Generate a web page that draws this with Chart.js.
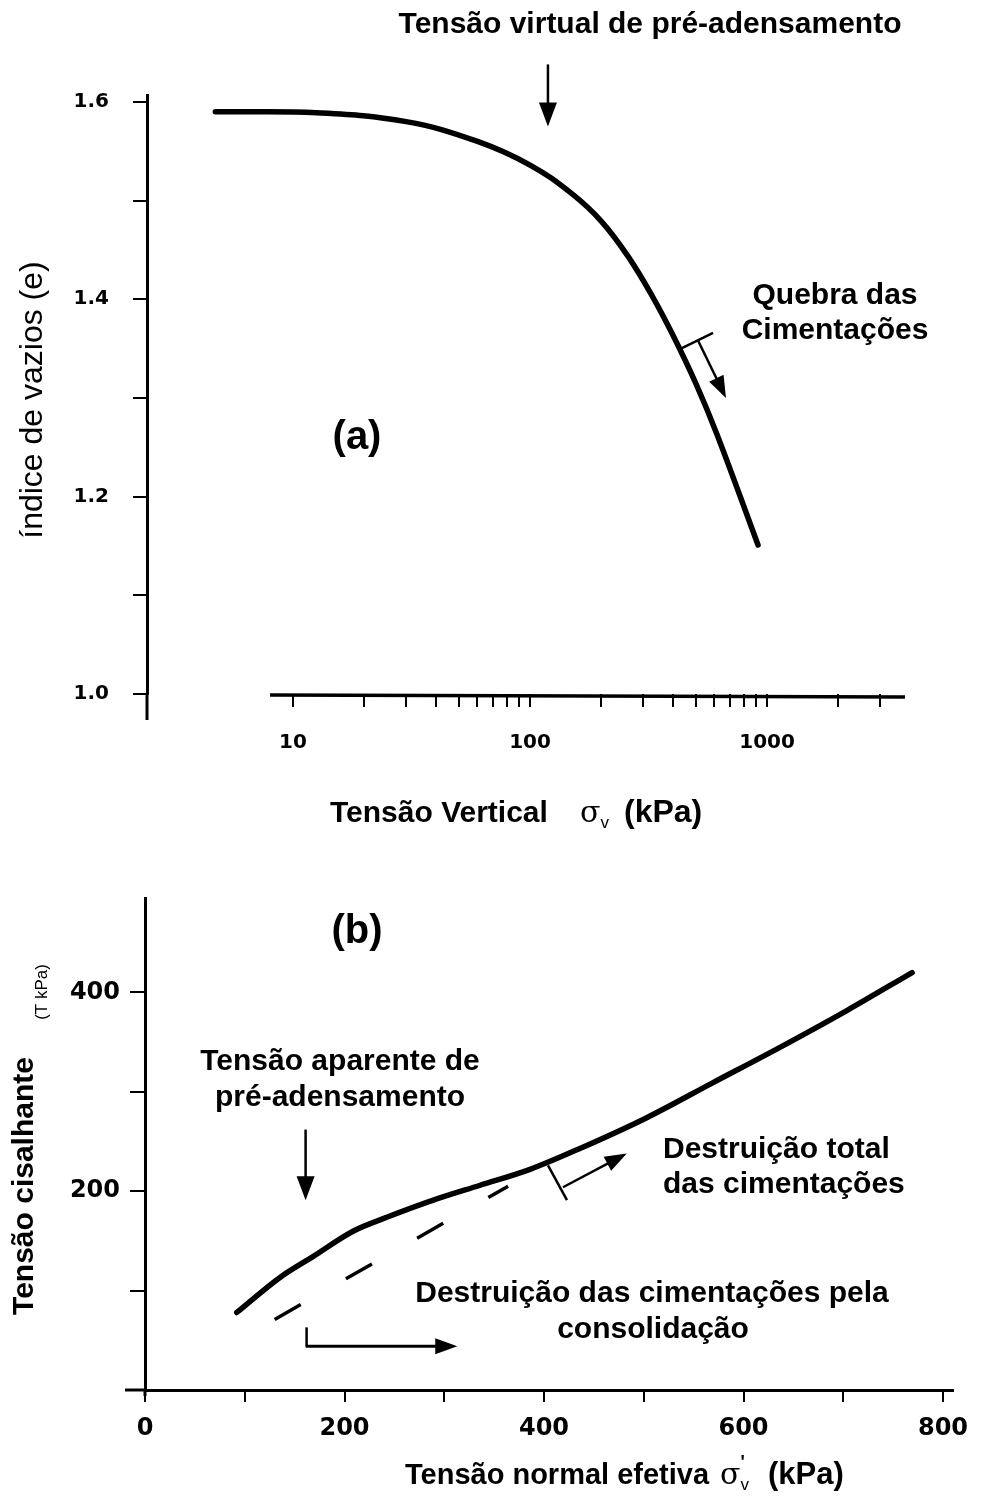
<!DOCTYPE html>
<html>
<head>
<meta charset="utf-8">
<script src="https://cdn.jsdelivr.net/npm/chart.js@4.4.0/dist/chart.umd.min.js"></script>
<style>
  body { margin: 0; background: #fff; }
  #wrapA { position: absolute; left: 0; top: 0; width: 994px; height: 860px; }
  #wrapB { position: absolute; left: 0; top: 860px; width: 994px; height: 639px; }
</style>
</head>
<body>
<div id="wrapA"><canvas id="chartA"></canvas></div>
<div id="wrapB"><canvas id="chartB"></canvas></div>
<script>
// (a) void ratio vs vertical stress (log)
const stressA = [4.7, 12.6, 30, 60, 100, 150, 200, 260, 330, 400, 500, 615, 916];
const voidRatioA = [1.590, 1.589, 1.580, 1.560, 1.536, 1.507, 1.479, 1.443, 1.402, 1.364, 1.315, 1.263, 1.151];
const xTicksA = [10, 20, 30, 40, 50, 60, 70, 80, 90, 100, 200, 300, 400, 500, 600, 700, 800, 900, 1000, 2000, 3000];
const xLabelsA = [10, 100, 1000];
const yTicksA = [1.0, 1.1, 1.2, 1.3, 1.4, 1.5, 1.6];
const yLabelsA = [1.0, 1.2, 1.4, 1.6];

// (b) shear stress vs effective normal stress
const normalB = [92, 135, 168, 209, 243, 289, 336, 386, 436, 503, 569, 637, 704, 769];
const shearB = [78, 113, 134, 160, 174, 191, 206, 222, 243, 274, 309, 345, 382, 420];
const dashNormalB = [130, 364];
const dashShearB = [71, 205];
const xTicksB = [0, 100, 200, 300, 400, 500, 600, 700, 800];
const xLabelsB = [0, 200, 400, 600, 800];
const yTicksB = [100, 200, 300, 400];
const yLabelsB = [200, 400];

Chart.defaults.font.family = '"Liberation Sans", Arial, sans-serif';
Chart.defaults.color = '#000';

const FONT = '"Liberation Sans", Arial, sans-serif';
const TICK_FONT = '"DejaVu Sans", sans-serif';

function arrow(ctx, x1, y1, x2, y2, lw, L = 22, W = 8) {
    const a = Math.atan2(y2 - y1, x2 - x1);
    ctx.lineWidth = lw;
    ctx.beginPath();
    ctx.moveTo(x1, y1);
    ctx.lineTo(x2 - (L - 4) * Math.cos(a), y2 - (L - 4) * Math.sin(a));
    ctx.stroke();
    ctx.beginPath();
    ctx.moveTo(x2, y2);
    ctx.lineTo(x2 - L * Math.cos(a) + W * Math.sin(a), y2 - L * Math.sin(a) - W * Math.cos(a));
    ctx.lineTo(x2 - L * Math.cos(a) - W * Math.sin(a), y2 - L * Math.sin(a) + W * Math.cos(a));
    ctx.closePath();
    ctx.fill();
}

function line(ctx, x1, y1, x2, y2, lw) {
    ctx.lineWidth = lw;
    ctx.beginPath();
    ctx.moveTo(x1, y1);
    ctx.lineTo(x2, y2);
    ctx.stroke();
}

function text(ctx, str, x, y, size, weight, align) {
    ctx.font = (weight || 'bold') + ' ' + size + 'px ' + FONT;
    ctx.textAlign = align || 'center';
    ctx.textBaseline = 'middle';
    ctx.fillText(str, x, y);
}

// axis title: words, then sigma (+prime) with subscript v, then (kPa)
function sigmaTitle(ctx, words, x, baseline, size, sigmaX, kpaX, prime) {
    ctx.textBaseline = 'alphabetic';
    ctx.textAlign = 'left';
    ctx.font = 'bold ' + size + 'px ' + FONT;
    ctx.fillText(words, x, baseline);
    ctx.font = '30px "DejaVu Serif", serif';
    ctx.fillText('\u03c3', sigmaX, baseline);
    const sx = sigmaX + ctx.measureText('\u03c3').width;
    if (prime) {
        ctx.font = 'bold 18px ' + FONT;
        ctx.fillText("'", sx, baseline - 16);
    }
    ctx.font = '17px ' + FONT;
    ctx.fillText('v', sx, baseline + 6);
    ctx.font = 'bold ' + (size + 2) + 'px ' + FONT;
    ctx.fillText('(kPa)', kpaX, baseline);
}

const decorA = {
    id: 'decorA',
    afterDraw(chart) {
        const { ctx, chartArea, scales: { x, y } } = chart;
        ctx.save();
        ctx.strokeStyle = '#000';
        ctx.fillStyle = '#000';
        // x axis line only starts near 8 kPa
        line(ctx, x.getPixelForValue(8), y.getPixelForValue(1.0) + 1, chartArea.right, y.getPixelForValue(1.0) + 3, 3.5);
        // y axis runs a little below the x axis
        line(ctx, chartArea.left, chartArea.bottom, chartArea.left, chartArea.bottom + 26, 3);

        text(ctx, 'Tensão virtual de pré-adensamento', 650, 25, 30);
        arrow(ctx, x.getPixelForValue(119), y.getPixelForValue(1.638), x.getPixelForValue(119), y.getPixelForValue(1.575), 2.5, 24, 9);

        text(ctx, 'Quebra das', 835, 296, 30);
        text(ctx, 'Cimentações', 835, 331, 30);
        line(ctx, x.getPixelForValue(433), y.getPixelForValue(1.350), x.getPixelForValue(592), y.getPixelForValue(1.366), 2.5);
        arrow(ctx, x.getPixelForValue(512), y.getPixelForValue(1.358), x.getPixelForValue(671), y.getPixelForValue(1.300), 2.5);

        text(ctx, '(a)', 357, 438, 40);

        ctx.save();
        ctx.translate(33, 400);
        ctx.rotate(-Math.PI / 2);
        text(ctx, 'índice de vazios (e)', 0, 0, 32, 'normal');
        ctx.restore();

        sigmaTitle(ctx, 'Tensão Vertical', 330, 822, 30, 580, 624, false);
        ctx.restore();
    }
};

const decorB = {
    id: 'decorB',
    afterDraw(chart) {
        const { ctx, chartArea, scales: { x, y } } = chart;
        ctx.save();
        ctx.strokeStyle = '#000';
        ctx.fillStyle = '#000';
        // axis stubs
        line(ctx, chartArea.left - 20, chartArea.bottom, chartArea.left, chartArea.bottom, 3);
        line(ctx, chartArea.left, chartArea.bottom, chartArea.left, chartArea.bottom + 6, 3);

        text(ctx, '(b)', 357, 72, 40);

        text(ctx, 'Tensão aparente de', 340, 202, 30);
        text(ctx, 'pré-adensamento', 340, 238, 30);
        arrow(ctx, x.getPixelForValue(161), y.getPixelForValue(262), x.getPixelForValue(161), y.getPixelForValue(191), 2.5, 24, 9);

        text(ctx, 'Destruição total', 663, 290, 30, 'bold', 'left');
        text(ctx, 'das cimentações', 663, 325, 30, 'bold', 'left');
        line(ctx, x.getPixelForValue(404), y.getPixelForValue(226), x.getPixelForValue(423), y.getPixelForValue(191), 2.5);
        arrow(ctx, x.getPixelForValue(419), y.getPixelForValue(204), x.getPixelForValue(483), y.getPixelForValue(238), 2.5);

        text(ctx, 'Destruição das cimentações pela', 652, 434, 30);
        text(ctx, 'consolidação', 653, 470, 30);
        line(ctx, x.getPixelForValue(162), y.getPixelForValue(63), x.getPixelForValue(162), y.getPixelForValue(44), 2.5);
        arrow(ctx, x.getPixelForValue(161), y.getPixelForValue(44), x.getPixelForValue(313), y.getPixelForValue(44), 3);

        ctx.save();
        ctx.translate(33, 326);
        ctx.rotate(-Math.PI / 2);
        ctx.font = 'bold 30px ' + FONT;
        ctx.textAlign = 'center';
        ctx.textBaseline = 'alphabetic';
        ctx.fillText('Tensão cisalhante', 0, 0);
        ctx.restore();
        ctx.save();
        ctx.translate(47, 132);
        ctx.rotate(-Math.PI / 2);
        ctx.font = '17px ' + FONT;
        ctx.textAlign = 'center';
        ctx.textBaseline = 'alphabetic';
        ctx.fillText('(T kPa)', 0, 0);
        ctx.restore();

        sigmaTitle(ctx, 'Tensão normal efetiva', 405, 624, 29, 720, 768, true);
        ctx.restore();
    }
};

new Chart(document.getElementById('chartA'), {
    type: 'line',
    data: {
        datasets: [{
            data: stressA.map((s, i) => ({ x: s, y: voidRatioA[i] })),
            borderColor: '#000',
            borderWidth: 5.5,
            pointRadius: 0,
            tension: 0.4,
            borderCapStyle: 'round',
            borderJoinStyle: 'round'
        }]
    },
    options: {
        responsive: true,
        maintainAspectRatio: false,
        animation: false,
        events: [],
        layout: { padding: { top: 95, right: 89, left: 0, bottom: 0 } },
        plugins: { legend: { display: false }, tooltip: { enabled: false } },
        scales: {
            x: {
                type: 'logarithmic',
                min: 2.42,
                max: 3820,
                afterBuildTicks: s => { s.ticks = xTicksA.map(v => ({ value: v })); },
                afterFit: s => { s.height = 166; },
                border: { display: false },
                grid: { drawOnChartArea: false, color: '#000', lineWidth: 2, tickLength: 13 },
                ticks: {
                    autoSkip: false,
                    maxRotation: 0,
                    padding: 24,
                    font: { family: TICK_FONT, size: 20, weight: 'bold' },
                    callback: v => xLabelsA.includes(v) ? String(v) : ''
                }
            },
            y: {
                min: 1.0,
                max: 1.607,
                afterBuildTicks: s => { s.ticks = yTicksA.map(v => ({ value: v })); },
                afterFit: s => { s.width = 147; },
                border: { color: '#000', width: 3 },
                grid: { drawOnChartArea: false, color: '#000', lineWidth: 2, tickLength: 14 },
                ticks: {
                    padding: 24,
                    font: { family: TICK_FONT, size: 20, weight: 'bold' },
                    callback: v => yLabelsA.some(l => Math.abs(l - v) < 1e-6) ? v.toFixed(1) : ''
                }
            }
        }
    },
    plugins: [decorA]
});

new Chart(document.getElementById('chartB'), {
    type: 'line',
    data: {
        datasets: [{
            data: normalB.map((s, i) => ({ x: s, y: shearB[i] })),
            borderColor: '#000',
            borderWidth: 5.5,
            pointRadius: 0,
            cubicInterpolationMode: 'monotone',
            borderCapStyle: 'round',
            borderJoinStyle: 'round'
        }, {
            data: dashNormalB.map((s, i) => ({ x: s, y: dashShearB[i] })),
            borderColor: '#000',
            borderWidth: 3.5,
            pointRadius: 0,
            borderDash: [30, 52]
        }]
    },
    options: {
        responsive: true,
        maintainAspectRatio: false,
        animation: false,
        events: [],
        layout: { padding: { top: 38, right: 41, left: 0, bottom: 0 } },
        plugins: { legend: { display: false }, tooltip: { enabled: false } },
        scales: {
            x: {
                type: 'linear',
                min: 0,
                max: 810,
                afterBuildTicks: s => { s.ticks = xTicksB.map(v => ({ value: v })); },
                afterFit: s => { s.height = 109; },
                border: { color: '#000', width: 3 },
                grid: { drawOnChartArea: false, color: '#000', lineWidth: 2, tickLength: 12 },
                ticks: {
                    autoSkip: false,
                    maxRotation: 0,
                    padding: 12,
                    font: { family: TICK_FONT, size: 24, weight: 'bold' },
                    callback: v => xLabelsB.includes(v) ? String(v) : ''
                }
            },
            y: {
                min: 0,
                max: 495,
                afterBuildTicks: s => { s.ticks = yTicksB.map(v => ({ value: v })); },
                afterFit: s => { s.width = 145; },
                border: { color: '#000', width: 3 },
                grid: { drawOnChartArea: false, color: '#000', lineWidth: 2, tickLength: 15 },
                ticks: {
                    padding: 10,
                    font: { family: TICK_FONT, size: 24, weight: 'bold' },
                    callback: v => yLabelsB.includes(v) ? String(v) : ''
                }
            }
        }
    },
    plugins: [decorB]
});
</script>
</body>
</html>
